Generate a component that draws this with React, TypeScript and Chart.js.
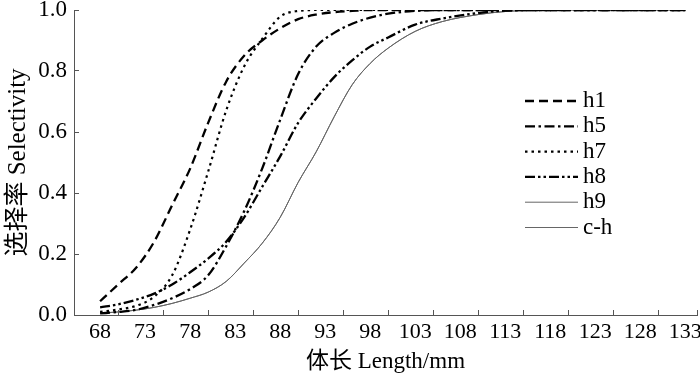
import React, { useEffect, useRef } from 'react';
import { Chart, registerables } from 'chart.js';

Chart.register(...registerables);

// Body length (mm) sample positions shared by all series
const lengths = [68, 70, 72, 74, 76, 78, 80, 82, 84, 86, 88, 90, 92, 94, 96, 98, 100, 103, 106, 110, 113, 118, 123, 128, 133];

const h1 = [0.045, 0.1, 0.155, 0.24, 0.36, 0.48, 0.63, 0.765, 0.85, 0.9, 0.94, 0.97, 0.985, 0.993, 0.997, 1, 1, 1, 1, 1, 1, 1, 1, 1, 1];
const h5 = [0.005, 0.01, 0.017, 0.033, 0.055, 0.085, 0.13, 0.225, 0.34, 0.48, 0.64, 0.79, 0.88, 0.925, 0.955, 0.975, 0.988, 0.997, 1, 1, 1, 1, 1, 1, 1];
const h7 = [0.01, 0.018, 0.03, 0.06, 0.13, 0.28, 0.47, 0.67, 0.815, 0.905, 0.978, 0.997, 1, 1, 1, 1, 1, 1, 1, 1, 1, 1, 1, 1, 1];
const h8 = [0.025, 0.035, 0.05, 0.07, 0.1, 0.14, 0.185, 0.24, 0.32, 0.42, 0.52, 0.63, 0.71, 0.78, 0.835, 0.88, 0.91, 0.952, 0.972, 0.99, 0.998, 1, 1, 1, 1];
const h9 = [0.006, 0.01, 0.016, 0.025, 0.038, 0.055, 0.075, 0.11, 0.17, 0.235, 0.32, 0.435, 0.535, 0.65, 0.755, 0.825, 0.875, 0.93, 0.962, 0.985, 0.995, 1, 1, 1, 1];
const ch = [0.006, 0.01, 0.016, 0.025, 0.038, 0.055, 0.075, 0.11, 0.17, 0.235, 0.32, 0.435, 0.535, 0.65, 0.755, 0.825, 0.875, 0.93, 0.962, 0.985, 0.995, 1, 1, 1, 1];

const seriesNames = ['h1', 'h5', 'h7', 'h8', 'h9', 'c-h'];

const xTickLabels = [68, 73, 78, 83, 88, 93, 98, 103, 108, 113, 118, 123, 128, 133];
const xTickMarks = [70, 75, 80, 85, 90, 95, 100, 105, 110, 115, 120, 125, 130, 134.3];
const yTickValues = [0, 0.2, 0.4, 0.6, 0.8, 1.0];

const X_MIN = 65.1;
const X_MAX = 134.3;

const FONT_FAMILY = "'Liberation Serif', 'Times New Roman', 'Noto Sans CJK SC', serif";
const AXIS_COLOR = '#555';

const toPoints = (vals: number[]) => lengths.map((x, i) => ({ x, y: vals[i] }));

const legendPlugin = {
  id: 'customLegend',
  afterDatasetsDraw(chart: any) {
    const ctx = chart.ctx;
    const lineStart = 525;
    const lineEnd = 578;
    const textX = 583;
    const top = 101;
    const gap = 25.3;
    chart.data.datasets.forEach((ds: any, i: number) => {
      const y = top + i * gap;
      ctx.save();
      ctx.strokeStyle = ds.borderColor;
      ctx.lineWidth = ds.borderWidth;
      ctx.setLineDash(ds.borderDash || []);
      ctx.beginPath();
      ctx.moveTo(lineStart, y);
      ctx.lineTo(lineEnd, y);
      ctx.stroke();
      ctx.setLineDash([]);
      ctx.fillStyle = '#000';
      ctx.font = `23px ${FONT_FAMILY}`;
      ctx.textBaseline = 'middle';
      ctx.textAlign = 'left';
      ctx.fillText(ds.label, textX, y);
      ctx.restore();
    });
  },
};

export default function App() {
  const canvasRef = useRef<HTMLCanvasElement | null>(null);

  useEffect(() => {
    document.body.style.margin = '0';
    const canvas = canvasRef.current;
    if (!canvas) return;

    const styles = [
      { dash: [9, 5], width: 2.3, color: '#000' },
      { dash: [10, 3.5, 2.5, 3.5], width: 2.3, color: '#000' },
      { dash: [2.5, 4], width: 2.2, color: '#000' },
      { dash: [10, 3, 2.5, 3, 2.5, 3], width: 2.3, color: '#000' },
      { dash: [], width: 1, color: '#666' },
      { dash: [], width: 1, color: '#666' },
    ];
    const allSeries = [h1, h5, h7, h8, h9, ch];

    const datasets = allSeries.map((vals, i) => ({
      label: seriesNames[i],
      data: toPoints(vals),
      borderColor: styles[i].color,
      borderWidth: styles[i].width,
      borderDash: styles[i].dash,
      pointRadius: 0,
      fill: false,
      cubicInterpolationMode: 'monotone' as const,
      xAxisID: 'x',
      yAxisID: 'y',
    }));

    const chart = new Chart(canvas, {
      type: 'line',
      data: { datasets },
      plugins: [legendPlugin],
      options: {
        animation: false,
        responsive: true,
        maintainAspectRatio: false,
        events: [],
        layout: { padding: { top: 10, right: 3, left: 0, bottom: 0 } },
        plugins: {
          legend: { display: false },
          tooltip: { enabled: false },
        },
        scales: {
          x: {
            type: 'linear',
            position: 'bottom',
            min: X_MIN,
            max: X_MAX,
            weight: 1,
            afterBuildTicks: (scale: any) => {
              scale.ticks = xTickLabels.map((v) => ({ value: v }));
            },
            afterFit: (scale: any) => {
              scale.height = 60;
              scale.paddingLeft = 0;
              scale.paddingRight = 0;
            },
            ticks: {
              color: '#000',
              font: { family: FONT_FAMILY, size: 22 },
              padding: 4,
              maxRotation: 0,
              autoSkip: false,
              callback: (v: any) => String(v),
            },
            grid: { display: true, drawOnChartArea: false, drawTicks: false, color: AXIS_COLOR },
            border: { display: true, color: AXIS_COLOR, width: 1 },
            title: {
              display: true,
              text: '体长 Length/mm',
              color: '#000',
              font: { family: FONT_FAMILY, size: 23 },
              padding: { top: 0, bottom: -1 },
            },
          },
          x2: {
            type: 'linear',
            position: 'bottom',
            min: X_MIN,
            max: X_MAX,
            weight: 0,
            afterBuildTicks: (scale: any) => {
              scale.ticks = xTickMarks.map((v) => ({ value: v }));
            },
            afterFit: (scale: any) => {
              scale.height = 0;
              scale.paddingLeft = 0;
              scale.paddingRight = 0;
            },
            ticks: { display: false, autoSkip: false },
            grid: { display: true, drawOnChartArea: false, drawTicks: true, tickLength: -5, color: AXIS_COLOR },
            border: { display: false },
          },
          y: {
            type: 'linear',
            position: 'left',
            min: 0,
            max: 1,
            afterBuildTicks: (scale: any) => {
              scale.ticks = yTickValues.map((v) => ({ value: v }));
            },
            afterFit: (scale: any) => {
              scale.width = 74;
              scale.paddingTop = 0;
              scale.paddingBottom = 0;
            },
            ticks: {
              color: '#000',
              font: { family: FONT_FAMILY, size: 23 },
              padding: 12,
              callback: (v: any) => Number(v).toFixed(1),
            },
            grid: { display: true, drawOnChartArea: false, drawTicks: true, tickLength: -5, color: AXIS_COLOR },
            border: { display: true, color: AXIS_COLOR, width: 1 },
            title: {
              display: true,
              text: '选择率 Selectivity',
              color: '#000',
              font: { family: FONT_FAMILY, size: 25 },
              padding: { top: 3, bottom: 0 },
            },
          },
        },
      },
    });

    return () => {
      chart.destroy();
    };
  }, []);

  return (
    <div style={{ width: 700, height: 375, position: 'relative' }}>
      <canvas ref={canvasRef} />
    </div>
  );
}
